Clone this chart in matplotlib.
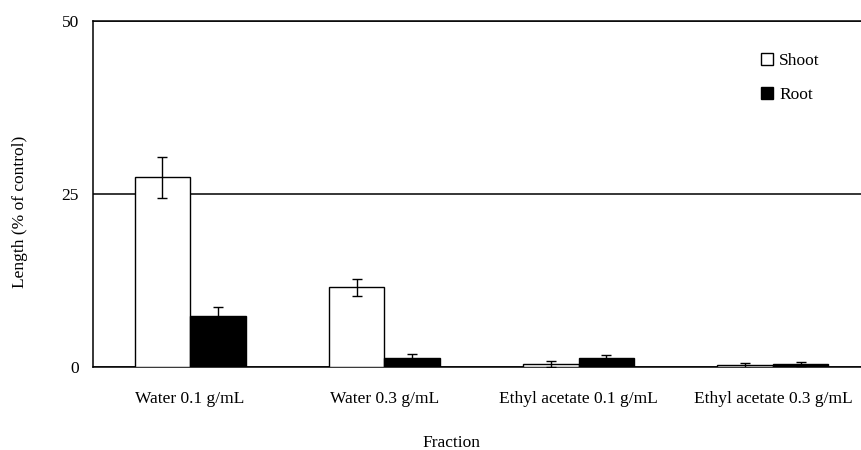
import matplotlib
matplotlib.use("Agg")
import matplotlib.pyplot as plt
import numpy as np

plt.rcParams['font.family'] = ['Liberation Serif', 'DejaVu Serif']

categories = ["Water 0.1 g/mL", "Water 0.3 g/mL", "Ethyl acetate 0.1 g/mL", "Ethyl acetate 0.3 g/mL"]
shoot = [27.4, 11.5, 0.45, 0.25]
shoot_err = [3.0, 1.25, 0.4, 0.38]
root = [7.4, 1.25, 1.25, 0.48]
root_err = [1.2, 0.6, 0.42, 0.3]
yticks = [0, 25, 50]

W, H = 862, 450
fig = plt.figure(figsize=(W / 100, H / 100), dpi=100)
ax = fig.add_axes([93 / W, 83 / H, 777 / W, 346 / H])

x = np.arange(len(categories))
bw = 0.286
err_kw = dict(ecolor='black', elinewidth=1.0, capsize=3.6, capthick=1.0)
ax.bar(x - bw / 2, shoot, bw, yerr=shoot_err, color='white', edgecolor='black',
       linewidth=1.0, error_kw=err_kw, label='Shoot', zorder=3)
ax.bar(x + bw / 2, root, bw, yerr=root_err, color='black', edgecolor='black',
       linewidth=1.0, error_kw=err_kw, label='Root', zorder=3)

ax.set_xlim(-0.5, 3.5)
ax.set_ylim(0, 50)
ax.set_yticks(yticks)
ax.set_xticks(x)
ax.set_xticklabels(categories)
ax.tick_params(axis='both', length=0, labelsize=12.5)
ax.tick_params(axis='x', pad=17)
ax.tick_params(axis='y', pad=10)
ax.yaxis.grid(True, color='black', linewidth=1.1, zorder=0)
ax.set_axisbelow(True)
ax.spines['right'].set_visible(False)
for s in ['left', 'bottom', 'top']:
    ax.spines[s].set_linewidth(1.1)

fig.text(451 / W, 1 - 443 / H, "Fraction", ha='center', va='center', fontsize=12.5)
fig.text(20 / W, 1 - 212 / H, "Length (% of control)", ha='center', va='center',
         rotation=90, fontsize=12.5)

ax.legend(loc='upper left', bbox_to_anchor=((754 - 93) / 777, (367 - 46) / 346),
          frameon=False, fontsize=12.5, handlelength=0.7, handleheight=0.7,
          handletextpad=0.35, labelspacing=1.05, borderaxespad=0)

fig.savefig("out.png", dpi=100)
